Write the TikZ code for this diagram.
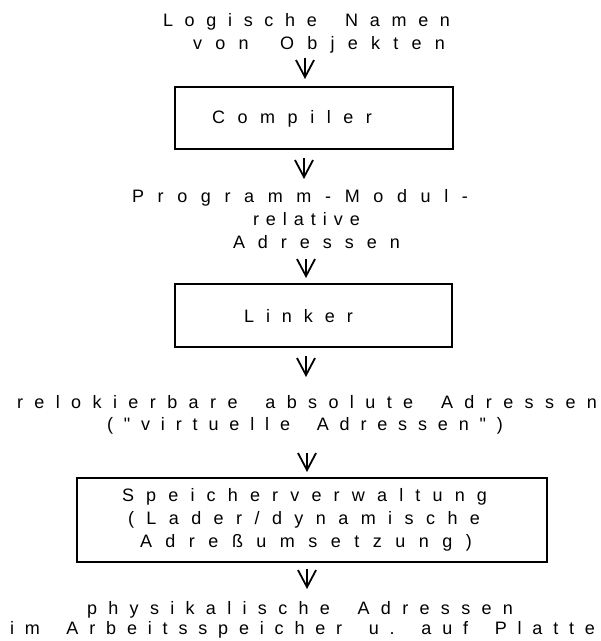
\documentclass[tikz,border=0pt]{standalone}
\usepackage{fontspec}
\setmainfont{Liberation Sans}
\usetikzlibrary{arrows.meta}

% spaced text: letters spread evenly over a given width, "|" marks a word gap
\makeatletter
\def\wsep{|}
\newcommand\spacedtext[2]{\makebox[#1][s]{\@tfor\st@ch:=#2\do{\ifx\st@ch\wsep\hspace{5bp plus 1fil}\else\st@ch\hspace{0pt plus 1fil}\fi}\unskip}}
\makeatother

\tikzset{
  lbl/.style={inner sep=0pt, outer sep=0pt, anchor=base west,
              font=\fontsize{18bp}{23bp}\selectfont},
  box/.style={draw, line width=1.8bp, rectangle, inner sep=0pt},
  flow/.style={line width=1.8bp, -{Straight Barb[length=17bp,width=18bp,line width=1.8bp]}}
}

\begin{document}
\begin{tikzpicture}[x=1bp, y=-1bp]
  \useasboundingbox (0,0) rectangle (601,641);

  % input names
  \node[lbl] (in1) at (163,27) {\spacedtext{287bp}{Logische|Namen}};
  \node[lbl] (in2) at (193,50) {\spacedtext{252bp}{von|Objekten}};

  % compiler stage
  \node[box, minimum width=278bp, minimum height=62bp] (compiler) at (314,118) {};
  \node[lbl] (compilertxt) at (212,124) {\spacedtext{160bp}{Compiler}};

  \node[lbl] (mod1) at (132,202) {\spacedtext{336bp}{Programm-Modul-}};
  \node[lbl] (mod2) at (253,225) {\spacedtext{107bp}{relative}};
  \node[lbl] (mod3) at (233,248) {\spacedtext{167bp}{Adressen}};

  % linker stage
  \node[box, minimum width=277bp, minimum height=63bp] (linker) at (313.5,315.5) {};
  \node[lbl] (linkertxt) at (244,322) {\spacedtext{109bp}{Linker}};

  \node[lbl] (rel1) at (17,408) {\spacedtext{580bp}{relokierbare|absolute|Adressen}};
  \node[lbl] (rel2) at (107,430) {\spacedtext{396bp}{(\textquotedbl virtuelle|Adressen\textquotedbl)}};

  % memory management stage
  \node[box, minimum width=470bp, minimum height=84bp] (mem) at (312,520) {};
  \node[lbl] (memtxt1) at (122,501) {\spacedtext{365bp}{Speicherverwaltung}};
  \node[lbl] (memtxt2) at (128,524) {\spacedtext{352bp}{(Lader/dynamische}};
  \node[lbl] (memtxt3) at (140,547) {\spacedtext{332bp}{Adreßumsetzung)}};

  \node[lbl] (phys1) at (87,614) {\spacedtext{426bp}{physikalische|Adressen}};
  \node[lbl] (phys2) at (10,634) {\spacedtext{585bp}{im|Arbeitsspeicher|u.|auf|Platte}};

  % arrow end points
  \coordinate (a1s) at (305,58);  \coordinate (a1e) at (305,79);
  \coordinate (a2s) at (304,158); \coordinate (a2e) at (304,179);
  \coordinate (a3s) at (306,259); \coordinate (a3e) at (306,278);
  \coordinate (a4s) at (306,356); \coordinate (a4e) at (306,377);
  \coordinate (a5s) at (307,453); \coordinate (a5e) at (307,472);
  \coordinate (a6s) at (307,569); \coordinate (a6e) at (307,589);

  \draw[flow] (a1s) -- (a1e);
  \draw[flow] (a2s) -- (a2e);
  \draw[flow] (a3s) -- (a3e);
  \draw[flow] (a4s) -- (a4e);
  \draw[flow] (a5s) -- (a5e);
  \draw[flow] (a6s) -- (a6e);
\end{tikzpicture}
\end{document}
